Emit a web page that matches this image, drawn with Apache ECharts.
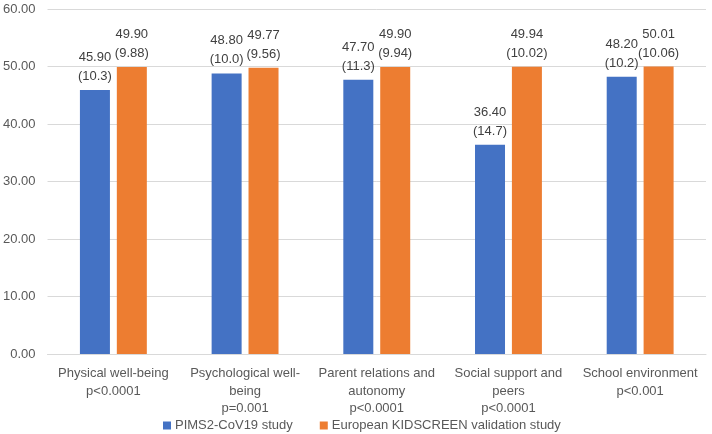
<!DOCTYPE html>
<html><head><meta charset="utf-8">
<script src="https://cdn.jsdelivr.net/npm/echarts@6/dist/echarts.min.js"></script>
<style>html,body{margin:0;padding:0;background:#fff}#c{width:712px;height:434px}</style>
</head><body><div id="c"></div>
<script>
var categories = ["Physical well-being\np<0.0001", "Psychological well-\nbeing\np=0.001", "Parent relations and\nautonomy\np<0.0001", "Social support and\npeers\np<0.0001", "School environment\np<0.001"];
var seriesNames = ["PIMS2-CoV19 study", "European KIDSCREEN validation study"];
var pimsValues = [45.90, 48.80, 47.70, 36.40, 48.20];
var pimsSD = ["10.3", "10.0", "11.3", "14.7", "10.2"];
var euroValues = [49.90, 49.77, 49.90, 49.94, 50.01];
var euroSD = ["9.88", "9.56", "9.94", "10.02", "10.06"];
var FONT = "Liberation Sans";
function lbl(sd) {
  return {show: true, position: 'top', distance: 4, color: '#404040', fontFamily: FONT, fontSize: 13, lineHeight: 19,
    formatter: function (p) { return p.value.toFixed(2) + '\n(' + sd[p.dataIndex] + ')'; }};
}
var chart = echarts.init(document.getElementById('c'));
chart.setOption({
  animation: false,
  grid: {left: 45, right: 6, top: 9, bottom: 80},
  legend: {bottom: -3, left: 158, itemWidth: 8, itemHeight: 8, itemGap: 27, icon: 'rect',
    textStyle: {color: '#595959', fontFamily: FONT, fontSize: 13, padding: [0, 0, 0, -1]}, data: seriesNames},
  xAxis: {type: 'category', data: categories,
    axisLine: {lineStyle: {color: '#d9d9d9'}}, axisTick: {show: false},
    axisLabel: {interval: 0, color: '#595959', fontFamily: FONT, fontSize: 13, lineHeight: 17.5, margin: 11}},
  yAxis: {type: 'value', min: 0, max: 60, interval: 10,
    axisLine: {show: false}, axisTick: {show: false},
    splitLine: {lineStyle: {color: '#d9d9d9'}},
    axisLabel: {color: '#595959', fontFamily: FONT, fontSize: 13, margin: 12, formatter: function (v) { return v.toFixed(2); }}},
  series: [
    {name: seriesNames[0], type: 'bar', data: pimsValues, barWidth: 30, barGap: '23%', itemStyle: {color: '#4472C4'}, label: lbl(pimsSD)},
    {name: seriesNames[1], type: 'bar', data: euroValues, barWidth: 30, itemStyle: {color: '#ED7D31'}, label: lbl(euroSD)}
  ]
});
</script></body></html>
